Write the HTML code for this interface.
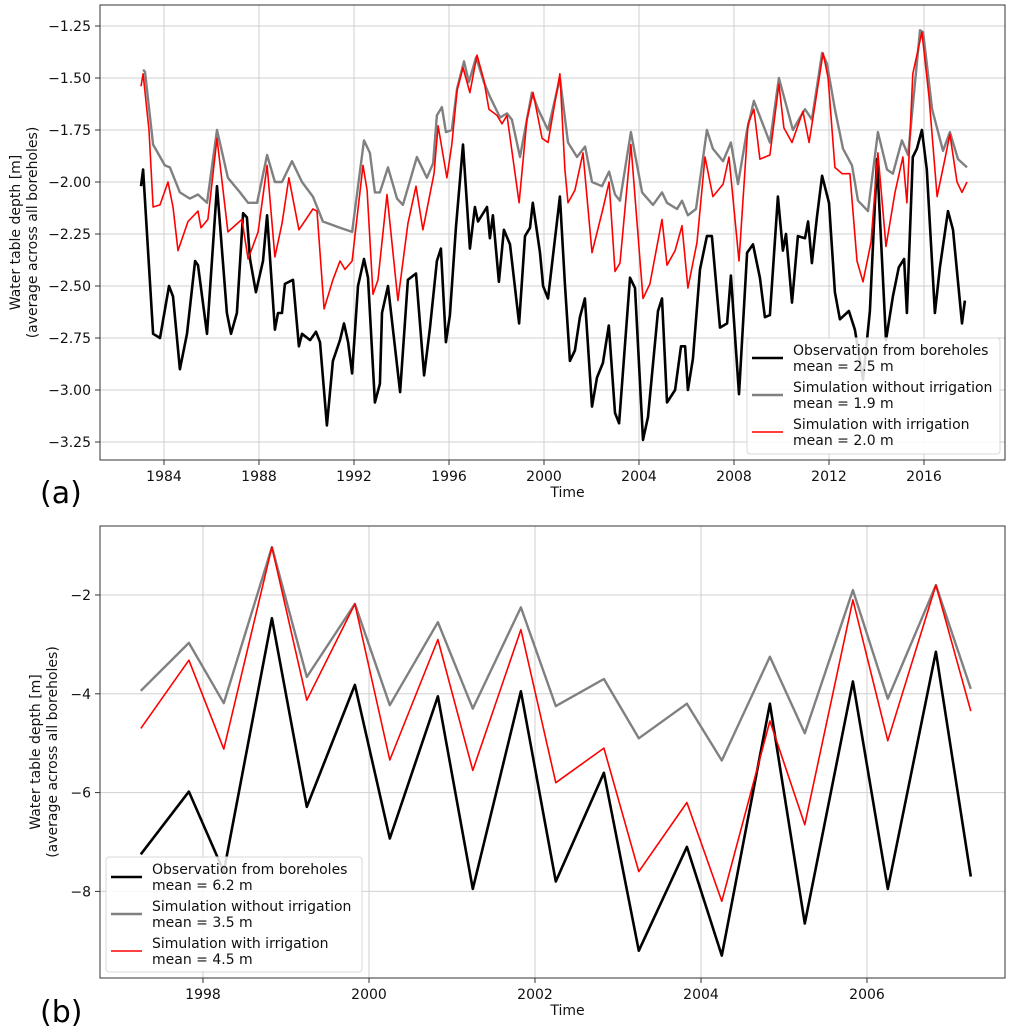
<!DOCTYPE html>
<html><head><meta charset="utf-8">
<style>
html,body{margin:0;padding:0;background:#fff;}
svg{display:block;font-family:"DejaVu Sans","Liberation Sans",sans-serif;}
</style></head>
<body>
<svg id="fig" width="1022" height="1027" viewBox="0 0 1022 1027" xmlns="http://www.w3.org/2000/svg">
<rect x="0" y="0" width="1022" height="1027" fill="#fff"/>
<g id="top"></g>
<g id="bot"></g>
<text x="40" y="503" font-size="30">(a)</text>
<text x="40" y="1022" font-size="30">(b)</text>
</svg>
<script>
// ---- Panel (a) data ----
const obsYearsA=[1983.03,1983.12,1983.54,1983.83,1984.21,1984.38,1984.67,1984.97,1985.31,1985.43,1985.81,1986.23,1986.65,1986.82,1987.07,1987.33,1987.49,1987.62,1987.87,1988.17,1988.34,1988.67,1988.80,1988.97,1989.09,1989.43,1989.68,1989.81,1990.15,1990.40,1990.57,1990.86,1991.11,1991.41,1991.58,1991.75,1991.92,1992.17,1992.42,1992.59,1992.88,1993.09,1993.18,1993.43,1993.94,1994.27,1994.61,1994.95,1995.20,1995.49,1995.66,1995.87,1996.04,1996.29,1996.59,1996.88,1997.09,1997.22,1997.60,1997.72,1997.85,1998.10,1998.31,1998.57,1998.95,1999.20,1999.41,1999.53,1999.83,1999.96,2000.17,2000.67,2000.88,2001.09,2001.30,2001.51,2001.72,2002.02,2002.23,2002.48,2002.73,2002.99,2003.16,2003.62,2003.83,2004.17,2004.38,2004.80,2004.97,2005.18,2005.52,2005.77,2005.94,2006.06,2006.27,2006.57,2006.86,2007.07,2007.41,2007.71,2007.87,2008.21,2008.55,2008.80,2009.09,2009.30,2009.51,2009.85,2010.06,2010.19,2010.44,2010.69,2010.99,2011.12,2011.28,2011.49,2011.71,2012.00,2012.25,2012.46,2012.84,2013.09,2013.43,2013.72,2014.02,2014.40,2014.69,2014.94,2015.16,2015.28,2015.53,2015.70,2015.91,2016.12,2016.46,2016.67,2017.01,2017.22,2017.60,2017.72];
const obsValsA=[-2.02,-1.94,-2.73,-2.75,-2.50,-2.55,-2.90,-2.73,-2.38,-2.40,-2.73,-2.02,-2.63,-2.73,-2.63,-2.15,-2.17,-2.37,-2.53,-2.38,-2.16,-2.71,-2.63,-2.63,-2.49,-2.47,-2.79,-2.73,-2.76,-2.72,-2.77,-3.17,-2.86,-2.76,-2.68,-2.77,-2.92,-2.50,-2.37,-2.46,-3.06,-2.97,-2.63,-2.50,-3.01,-2.47,-2.44,-2.93,-2.70,-2.38,-2.32,-2.77,-2.64,-2.22,-1.82,-2.32,-2.12,-2.19,-2.12,-2.27,-2.16,-2.48,-2.23,-2.30,-2.68,-2.26,-2.22,-2.10,-2.34,-2.50,-2.56,-2.07,-2.49,-2.86,-2.81,-2.65,-2.56,-3.08,-2.94,-2.87,-2.69,-3.11,-3.16,-2.46,-2.51,-3.24,-3.13,-2.62,-2.56,-3.06,-3.00,-2.79,-2.79,-3.00,-2.85,-2.42,-2.26,-2.26,-2.70,-2.68,-2.45,-3.02,-2.34,-2.30,-2.46,-2.65,-2.64,-2.07,-2.33,-2.25,-2.58,-2.26,-2.27,-2.19,-2.39,-2.17,-1.97,-2.10,-2.53,-2.66,-2.62,-2.71,-2.95,-2.62,-1.89,-2.76,-2.55,-2.41,-2.37,-2.63,-1.88,-1.84,-1.75,-1.94,-2.63,-2.41,-2.14,-2.23,-2.68,-2.57];
const noirrYearsA=[1983.12,1983.20,1983.54,1984.04,1984.25,1984.67,1985.09,1985.43,1985.81,1986.23,1986.69,1987.20,1987.54,1987.92,1988.34,1988.67,1988.97,1989.39,1989.81,1990.27,1990.69,1991.41,1991.92,1992.42,1992.67,1992.88,1993.09,1993.43,1993.81,1994.06,1994.65,1995.07,1995.33,1995.49,1995.70,1995.87,1996.12,1996.34,1996.63,1996.84,1997.14,1997.47,1997.72,1998.15,1998.44,1998.65,1998.99,1999.49,1999.75,2000.17,2000.67,2001.01,2001.39,2001.73,2002.02,2002.44,2002.74,2002.99,2003.20,2003.66,2004.13,2004.59,2004.97,2005.18,2005.60,2005.81,2006.06,2006.40,2006.86,2007.11,2007.54,2007.87,2008.17,2008.55,2008.84,2009.51,2009.89,2010.48,2010.78,2010.99,2011.28,2011.71,2011.91,2012.25,2012.59,2012.97,2013.22,2013.64,2014.06,2014.44,2014.69,2015.07,2015.33,2015.83,2015.96,2016.34,2016.80,2017.09,2017.43,2017.81];
const noirrValsA=[-1.46,-1.47,-1.82,-1.92,-1.93,-2.05,-2.08,-2.06,-2.10,-1.75,-1.98,-2.05,-2.10,-2.10,-1.87,-2.00,-2.00,-1.90,-2.00,-2.07,-2.19,-2.22,-2.24,-1.80,-1.86,-2.05,-2.05,-1.93,-2.08,-2.11,-1.88,-1.98,-1.91,-1.68,-1.64,-1.76,-1.75,-1.55,-1.42,-1.52,-1.40,-1.52,-1.59,-1.69,-1.67,-1.70,-1.88,-1.57,-1.65,-1.75,-1.50,-1.81,-1.88,-1.83,-2.00,-2.02,-1.95,-2.06,-2.09,-1.76,-2.05,-2.11,-2.05,-2.10,-2.13,-2.09,-2.16,-2.13,-1.75,-1.84,-1.90,-1.81,-2.01,-1.75,-1.61,-1.81,-1.50,-1.75,-1.69,-1.65,-1.70,-1.38,-1.43,-1.65,-1.84,-1.92,-2.09,-2.14,-1.76,-1.94,-1.96,-1.80,-1.87,-1.27,-1.28,-1.65,-1.85,-1.76,-1.89,-1.93];
const irrYearsA=[1983.03,1983.12,1983.37,1983.54,1983.83,1984.17,1984.38,1984.59,1985.01,1985.43,1985.56,1985.85,1986.23,1986.69,1987.28,1987.54,1987.96,1988.34,1988.67,1988.97,1989.26,1989.68,1990.27,1990.44,1990.74,1991.11,1991.41,1991.62,1991.92,1992.38,1992.55,1992.80,1993.01,1993.39,1993.85,1994.27,1994.61,1994.90,1995.37,1995.54,1995.91,1996.12,1996.34,1996.59,1996.88,1997.18,1997.47,1997.68,1998.02,1998.23,1998.44,1998.95,1999.28,1999.54,1999.92,2000.17,2000.67,2000.88,2001.01,2001.30,2001.64,2002.02,2002.48,2002.74,2002.99,2003.20,2003.66,2004.17,2004.46,2004.97,2005.18,2005.52,2005.81,2006.06,2006.44,2006.78,2007.11,2007.54,2007.79,2008.21,2008.59,2008.84,2009.09,2009.51,2009.89,2010.10,2010.44,2010.90,2011.16,2011.49,2011.75,2011.96,2012.25,2012.55,2012.88,2013.18,2013.43,2013.77,2014.06,2014.40,2014.78,2015.11,2015.28,2015.53,2015.91,2016.21,2016.55,2016.88,2017.09,2017.39,2017.60,2017.81];
const irrValsA=[-1.54,-1.48,-1.75,-2.12,-2.11,-2.00,-2.12,-2.33,-2.19,-2.14,-2.22,-2.18,-1.79,-2.24,-2.18,-2.37,-2.24,-1.92,-2.36,-2.20,-1.98,-2.23,-2.13,-2.14,-2.61,-2.47,-2.38,-2.42,-2.38,-1.92,-2.04,-2.54,-2.47,-2.06,-2.57,-2.20,-2.02,-2.23,-1.96,-1.73,-1.98,-1.82,-1.56,-1.45,-1.57,-1.39,-1.51,-1.65,-1.68,-1.72,-1.68,-2.10,-1.70,-1.57,-1.79,-1.81,-1.48,-1.94,-2.10,-2.04,-1.86,-2.34,-2.13,-2.00,-2.43,-2.39,-1.82,-2.56,-2.49,-2.18,-2.40,-2.33,-2.21,-2.51,-2.29,-1.88,-2.07,-2.01,-1.88,-2.38,-1.72,-1.65,-1.89,-1.87,-1.53,-1.74,-1.81,-1.66,-1.81,-1.57,-1.38,-1.50,-1.93,-1.96,-1.96,-2.38,-2.48,-2.29,-1.86,-2.31,-2.05,-1.88,-2.10,-1.48,-1.28,-1.59,-2.07,-1.89,-1.77,-2.00,-2.05,-2.00];
const xTicksA=[1984,1988,1992,1996,2000,2004,2008,2012,2016];
const yTicksA=[-1.25,-1.5,-1.75,-2.0,-2.25,-2.5,-2.75,-3.0,-3.25];
const yTickLabelsA=["\u22121.25","\u22121.50","\u22121.75","\u22122.00","\u22122.25","\u22122.50","\u22122.75","\u22123.00","\u22123.25"];
// ---- Panel (b) data ----
const yearsB=[1997.25,1997.83,1998.25,1998.83,1999.25,1999.83,2000.25,2000.83,2001.25,2001.83,2002.25,2002.83,2003.25,2003.83,2004.25,2004.83,2005.25,2005.83,2006.25,2006.83,2007.25];
const obsValsB=[-7.25,-5.98,-7.6,-2.47,-6.29,-3.82,-6.93,-4.05,-7.95,-3.95,-7.8,-5.6,-9.2,-7.1,-9.3,-4.2,-8.65,-3.75,-7.95,-3.15,-7.7];
const noirrValsB=[-3.94,-2.97,-4.19,-1.03,-3.66,-2.18,-4.23,-2.55,-4.3,-2.25,-4.25,-3.7,-4.9,-4.2,-5.35,-3.25,-4.8,-1.9,-4.1,-1.8,-3.9];
const irrValsB=[-4.7,-3.32,-5.12,-1.03,-4.13,-2.18,-5.34,-2.9,-5.55,-2.7,-5.8,-5.1,-7.6,-6.2,-8.2,-4.55,-6.65,-2.1,-4.95,-1.8,-4.35];
const xTicksB=[1998,2000,2002,2004,2006];
const yTicksB=[-2,-4,-6,-8];
const yTickLabelsB=["\u22122","\u22124","\u22126","\u22128"];
const legendLabelsA=["Observation from boreholes","mean = 2.5 m","Simulation without irrigation","mean = 1.9 m","Simulation with irrigation","mean = 2.0 m"];
const legendLabelsB=["Observation from boreholes","mean = 6.2 m","Simulation without irrigation","mean = 3.5 m","Simulation with irrigation","mean = 4.5 m"];

const NS="http://www.w3.org/2000/svg";
function mk(tag,attrs,parent){const e=document.createElementNS(NS,tag);for(const k in attrs)e.setAttribute(k,attrs[k]);parent.appendChild(e);return e;}

const A={L:100,R:1005,T:5,B:460};
function xA(y){return 164+(y-1984)*23.75;}
function yA(v){return 26+(-1.25-v)*208;}
const B={L:100,R:1005,T:526,B:978};
function xB(y){return 203+(y-1998)*83;}
function yB(v){return 595+(-2-v)*49.4;}

function panel(g,box,xs,ys,xT,yT,yTL,series,legend,lg,ylx){
  xT.forEach(t=>{const x=xs(t);
    const l=mk('line',{x1:x,x2:x,y1:box.T,y2:box.B,stroke:'#d0d0d0','stroke-width':1},g);
    
    
    const tk=mk('line',{x1:x,x2:x,y1:box.B,y2:box.B+5,stroke:'#333','stroke-width':1},g);
    
    
    const tx=mk('text',{x:x,y:box.B+21,'font-size':14,'text-anchor':'middle',fill:'#111'},g);
    tx.textContent=String(t);
    
    
  });
  yT.forEach((t,i)=>{const y=ys(t);
    const l=mk('line',{x1:box.L,x2:box.R,y1:y,y2:y,stroke:'#d0d0d0','stroke-width':1},g);
    
    
    const tk=mk('line',{x1:box.L-5,x2:box.L,y1:y,y2:y,stroke:'#333','stroke-width':1},g);
    
    
    const tx=mk('text',{x:box.L-9,y:y+5,'font-size':14,'text-anchor':'end',fill:'#111'},g);
    tx.textContent=yTL[i];
    
    
  });
  const cp=mk('clipPath',{id:g.id+'clip'},g);
  mk('rect',{x:box.L,y:box.T,width:box.R-box.L,height:box.B-box.T},cp);
  series.forEach(s=>{
    const pts=s.yr.map((y,i)=>xs(y).toFixed(1)+','+ys(s.v[i]).toFixed(1)).join(' ');
    const p=mk('polyline',{points:pts,fill:'none',stroke:s.c,'stroke-width':s.w,'stroke-linejoin':'round','clip-path':'url(#'+g.id+'clip)'},g);
    
    
  });
  const f=mk('rect',{x:box.L,y:box.T,width:box.R-box.L,height:box.B-box.T,fill:'none',stroke:'#333','stroke-width':1},g);
  
  
  const xl=mk('text',{x:(box.L+box.R)/2+15,y:box.B+37,'font-size':14,'text-anchor':'middle',fill:'#111'},g);
  xl.textContent='Time';
  
  
  const cy=(box.T+box.B)/2;
  const y1=mk('text',{x:0,y:0,'font-size':14,'text-anchor':'middle',fill:'#111',transform:'translate('+ylx+','+cy+') rotate(-90)'},g);
  y1.textContent='Water table depth [m]';
  
  
  const y2=mk('text',{x:0,y:0,'font-size':14,'text-anchor':'middle',fill:'#111',transform:'translate('+(ylx+17)+','+cy+') rotate(-90)'},g);
  y2.textContent='(average across all boreholes)';
  
  
  const lgG=mk('g',{},g);
  
  
  mk('rect',{x:lg.x,y:lg.y,width:lg.w,height:lg.h,rx:3,fill:'#fff','fill-opacity':0.85,stroke:'#d8d8d8'},lgG);
  series.forEach((s,i)=>{
    const ly=lg.y+20+i*37;
    const ln=mk('line',{x1:lg.x+5,x2:lg.x+36,y1:ly,y2:ly,stroke:s.c,'stroke-width':s.w},lgG);
    
    
    for(let k=0;k<2;k++){
      const t=mk('text',{x:lg.x+46,y:ly-3+k*16,'font-size':14,fill:'#111'},lgG);
      t.textContent=legend[i*2+k];
      
      
    }
  });
}
panel(document.getElementById('top'),A,xA,yA,xTicksA,yTicksA,yTickLabelsA,
  [{yr:obsYearsA,v:obsValsA,c:'#000',w:2.6,n:'observation-line'},
   {yr:noirrYearsA,v:noirrValsA,c:'#808080',w:2.4,n:'simulation-no-irrigation-line'},
   {yr:irrYearsA,v:irrValsA,c:'#ff0000',w:1.6,n:'simulation-irrigation-line'}],
  legendLabelsA,{x:747,y:338,w:253,h:116},20);
panel(document.getElementById('bot'),B,xB,yB,xTicksB,yTicksB,yTickLabelsB,
  [{yr:yearsB,v:obsValsB,c:'#000',w:2.6,n:'observation-line'},
   {yr:yearsB,v:noirrValsB,c:'#808080',w:2.4,n:'simulation-no-irrigation-line'},
   {yr:yearsB,v:irrValsB,c:'#ff0000',w:1.6,n:'simulation-irrigation-line'}],
  legendLabelsB,{x:106,y:857,w:256,h:115},40);
</script>
</body></html>
